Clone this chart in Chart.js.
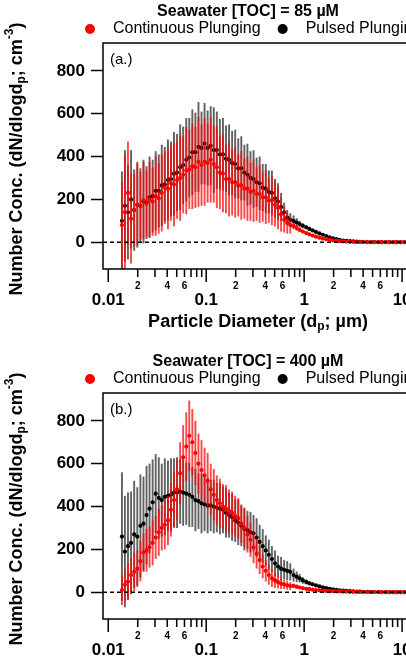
<!DOCTYPE html>
<html>
<head>
<meta charset="utf-8">
<title>Seawater TOC size distributions</title>
<script src="https://cdn.jsdelivr.net/npm/chart.js@4.4.1/dist/chart.umd.min.js"></script>
<style>
  html, body { margin: 0; padding: 0; background: #fff; width: 406px; height: 660px; overflow: hidden; }
  .panel { position: absolute; left: 0; }
</style>
</head>
<body>
<canvas id="toc85" class="panel" style="top:0" width="420" height="350"></canvas>
<canvas id="toc400" class="panel" style="top:350px" width="420" height="350"></canvas>
<script>
// particle diameter (um), SMPS bins then the coarse tail
const diam = [0.0138, 0.0148, 0.0159, 0.0171, 0.0184, 0.0198, 0.0213, 0.0229, 0.0246, 0.0264,
  0.0284, 0.0305, 0.0328, 0.0352, 0.0378, 0.0407, 0.0437, 0.0469, 0.0504, 0.0542,
  0.0582, 0.0626, 0.0672, 0.0722, 0.0776, 0.0834, 0.0896, 0.0963, 0.1035, 0.1112,
  0.1195, 0.1284, 0.1380, 0.1483, 0.1593, 0.1712, 0.1840, 0.1977, 0.2125, 0.2283,
  0.2453, 0.2636, 0.2833, 0.3044, 0.3271, 0.3515, 0.3778, 0.4059, 0.4362, 0.4688,
  0.5037, 0.5413, 0.5817, 0.6251, 0.6717, 0.7218,
  0.78, 0.84, 0.90, 0.97, 1.05, 1.13, 1.22, 1.32, 1.43, 1.55,
  1.68, 1.82, 1.97, 2.13, 2.30, 2.50, 2.70, 2.93, 3.17, 3.43,
  3.70, 4.00, 4.40, 4.80, 5.20, 5.70, 6.20, 6.80, 7.40, 8.10,
  8.80, 9.60, 10.5, 11.5];

// [TOC] = 85 uM
const cont85 = [80, 140, 230, 110, 150, 175, 170, 195, 180, 200,
  190, 215, 205, 230, 255, 250, 275, 270, 290, 300,
  315, 335, 340, 355, 350, 375, 360, 375, 370, 385,
  365, 350, 325, 320, 295, 295, 280, 280, 265, 265,
  250, 250, 235, 240, 225, 225, 210, 210, 195, 195,
  175, 160, 130, 105, 90, 80,
  75, 66, 58, 50, 43, 37, 31, 26, 21, 17,
  14, 11, 9, 7, 5, 4, 3, 2, 2, 1,
  1, 1, 0, 0, 0, 0, 0, 0, 0, 0,
  0, 0, 0, 0];
const cont85Err = [200, 270, 240, 210, 170, 190, 160, 180, 155, 175,
  160, 185, 165, 180, 170, 190, 175, 195, 180, 200,
  180, 205, 185, 200, 190, 210, 190, 205, 185, 200,
  180, 190, 170, 180, 160, 175, 155, 165, 145, 160,
  140, 150, 135, 145, 125, 135, 115, 125, 105, 115,
  100, 100, 80, 60, 50, 40,
  15, 12, 10, 8, 7, 6, 5, 4, 3, 3,
  2, 2, 2, 1, 1, 1, 1, 0, 0, 0,
  0, 0, 0, 0, 0, 0, 0, 0, 0, 0,
  0, 0, 0, 0];
const puls85 = [100, 170, 140, 200, 150, 175, 170, 190, 185, 210,
  215, 240, 240, 265, 270, 290, 295, 320, 325, 350,
  360, 385, 395, 420, 420, 445, 440, 460, 440, 450,
  430, 430, 410, 410, 390, 385, 370, 365, 345, 345,
  325, 315, 300, 295, 280, 275, 255, 250, 235, 230,
  205, 190, 165, 140, 115, 105,
  100, 92, 85, 77, 70, 62, 55, 48, 41, 35,
  29, 23, 18, 14, 11, 8, 6, 5, 4, 3,
  2, 2, 1, 1, 1, 0, 0, 0, 0, 0,
  0, 0, 0, 0];
const puls85Err = [230, 260, 220, 230, 190, 200, 175, 195, 170, 190,
  170, 185, 170, 190, 175, 190, 175, 195, 180, 200,
  180, 195, 185, 200, 185, 210, 170, 190, 175, 185,
  200, 180, 165, 170, 155, 165, 150, 160, 140, 150,
  130, 145, 125, 135, 115, 125, 110, 115, 100, 105,
  90, 85, 65, 45, 35, 30,
  25, 20, 15, 12, 10, 8, 6, 5, 4, 3,
  3, 2, 2, 1, 1, 1, 0, 0, 0, 0,
  0, 0, 0, 0, 0, 0, 0, 0, 0, 0,
  0, 0, 0, 0];

// [TOC] = 400 uM
const cont400 = [10, 35, 50, 80, 95, 110, 145, 185, 195, 210,
  230, 255, 280, 300, 315, 335, 385, 430, 480, 555,
  630, 680, 730, 700, 650, 600, 570, 545, 520, 480,
  455, 430, 415, 400, 390, 380, 370, 355, 345, 320,
  300, 270, 245, 210, 180, 150, 120, 100, 80, 65,
  55, 47, 40, 36, 32, 29,
  30, 26, 22, 19, 16, 14, 12, 10, 9, 7,
  6, 5, 5, 4, 4, 3, 3, 2, 2, 2,
  1, 1, 1, 1, 1, 0, 0, 0, 0, 0,
  0, 0, 0, 0];
const cont400Err = [70, 75, 85, 80, 90, 85, 95, 90, 100, 95,
  105, 100, 110, 105, 115, 115, 125, 130, 140, 145,
  150, 160, 165, 155, 150, 140, 140, 130, 130, 120,
  120, 115, 115, 105, 110, 100, 100, 95, 95, 90,
  90, 85, 80, 75, 70, 65, 55, 50, 45, 40,
  35, 30, 25, 22, 20, 18,
  10, 8, 7, 6, 5, 4, 3, 3, 2, 2,
  2, 1, 1, 1, 1, 0, 0, 0, 0, 0,
  0, 0, 0, 0, 0, 0, 0, 0, 0, 0,
  0, 0, 0, 0];
const puls400 = [260, 190, 215, 230, 270, 260, 310, 320, 360, 390,
  420, 460, 440, 430, 445, 450, 455, 465, 465, 470,
  465, 460, 455, 445, 430, 425, 415, 410, 405, 405,
  400, 395, 390, 385, 370, 360, 350, 335, 325, 310,
  295, 290, 280, 275, 255, 235, 215, 195, 175, 155,
  135, 120, 110, 105, 100, 95,
  80, 72, 65, 55, 48, 42, 37, 32, 27, 23,
  19, 16, 13, 11, 9, 7, 6, 5, 4, 3,
  3, 2, 2, 1, 1, 1, 1, 0, 0, 0,
  0, 0, 0, 0];
const puls400Err = [300, 260, 250, 240, 250, 230, 240, 220, 230, 210,
  200, 185, 190, 170, 180, 165, 170, 160, 165, 150,
  155, 145, 150, 140, 145, 130, 140, 125, 130, 120,
  125, 115, 120, 110, 115, 105, 110, 100, 105, 95,
  100, 90, 95, 85, 90, 80, 80, 70, 70, 60,
  60, 50, 55, 45, 45, 40,
  30, 25, 20, 15, 12, 10, 8, 6, 5, 4,
  3, 3, 2, 2, 2, 1, 1, 1, 0, 0,
  0, 0, 0, 0, 0, 0, 0, 0, 0, 0,
  0, 0, 0, 0];

// axes
const xMin = 0.00884, xMax = 13.87;
const yMin = -125, yMax = 930;
const yTicks = [0, 200, 400, 600, 800];
const xMajorTicks = [0.01, 0.1, 1, 10];
const xMajorLabels = ['0.01', '0.1', '1', '10'];
const xMinorTicks = [0.02, 0.03, 0.04, 0.05, 0.06, 0.07, 0.08, 0.09,
  0.2, 0.3, 0.4, 0.5, 0.6, 0.7, 0.8, 0.9,
  2, 3, 4, 5, 6, 7, 8, 9];
const xMinorLabels = ['2', '', '4', '', '6', '', '', '',
  '2', '', '4', '', '6', '', '', '',
  '2', '', '4', '', '6', '', '', ''];
const xTitle = [['Particle Diameter (d'], ['p', 'sub'], ['; µm)']];
const yTitle = [['Number Conc. (dN/dlogd'], ['p', 'sub'], ['; cm'], ['-3', 'sup'], [')']];

const FONT = "'Liberation Sans', Arial, Helvetica, sans-serif";
Chart.defaults.font.family = FONT;
Chart.defaults.color = '#000';

// text with sub/superscripts, centred on (cx, cy)
function richText(ctx, parts, cx, cy, size) {
  const big = 'bold ' + size + 'px ' + FONT;
  const small = 'bold ' + Math.round(size * 0.68) + 'px ' + FONT;
  let w = 0;
  parts.forEach(([t, k]) => { ctx.font = k ? small : big; w += ctx.measureText(t).width; });
  let x = cx - w / 2;
  ctx.textAlign = 'left';
  ctx.textBaseline = 'middle';
  parts.forEach(([t, k]) => {
    ctx.font = k ? small : big;
    ctx.fillText(t, x, cy + (k === 'sub' ? 5 : k === 'sup' ? -7 : 0));
    x += ctx.measureText(t).width;
  });
}

// vertical error bars, drawn just under each dataset's markers
const errorBars = {
  id: 'errorBars',
  beforeDatasetDraw(chart, args) {
    const ds = chart.data.datasets[args.index];
    if (!ds.err) return;
    const {ctx, chartArea: a, scales: {x, y}} = chart;
    ctx.save();
    ctx.beginPath();
    ctx.rect(a.left, a.top, a.right - a.left, a.bottom - a.top);
    ctx.clip();
    ctx.strokeStyle = ds.errColor;
    ctx.lineWidth = 1.9;
    ds.data.forEach((p, i) => {
      const e = ds.err[i];
      if (!e) return;
      const px = x.getPixelForValue(p.x);
      ctx.beginPath();
      ctx.moveTo(px, y.getPixelForValue(p.y - e));
      ctx.lineTo(px, y.getPixelForValue(p.y + e));
      ctx.stroke();
    });
    ctx.restore();
  }
};

// frame, hanging log ticks, titles, legend
const figureDecor = {
  id: 'figureDecor',
  afterDraw(chart, args, o) {
    const {ctx, chartArea: a, scales: {x}} = chart;
    ctx.save();
    ctx.fillStyle = '#000';
    ctx.strokeStyle = '#000';
    ctx.lineWidth = 1.5;
    ctx.strokeRect(a.left, a.top, a.right - a.left, a.bottom - a.top);

    ctx.beginPath();
    xMajorTicks.forEach(v => {
      const px = x.getPixelForValue(v);
      ctx.moveTo(px, a.bottom);
      ctx.lineTo(px, a.bottom + 13);
    });
    xMinorTicks.forEach(v => {
      const px = x.getPixelForValue(v);
      ctx.moveTo(px, a.bottom);
      ctx.lineTo(px, a.bottom + 8);
    });
    ctx.stroke();

    ctx.textAlign = 'center';
    ctx.textBaseline = 'middle';
    ctx.font = 'bold 10px ' + FONT;
    xMinorTicks.forEach((v, i) => ctx.fillText(xMinorLabels[i], x.getPixelForValue(v), a.bottom + 17));
    ctx.font = 'bold 17px ' + FONT;
    xMajorTicks.forEach((v, i) => ctx.fillText(xMajorLabels[i], x.getPixelForValue(v), a.bottom + 31));

    richText(ctx, xTitle, 258, a.bottom + 53, 18);
    ctx.save();
    ctx.translate(17, (a.top + a.bottom) / 2 + 3);
    ctx.rotate(-Math.PI / 2);
    richText(ctx, yTitle, 0, 0, 18);
    ctx.restore();

    ctx.font = '15px ' + FONT;
    ctx.textAlign = 'left';
    ctx.textBaseline = 'middle';
    ctx.fillText(o.tag, a.left + 7, a.top + 17);

    ctx.font = 'bold 16px ' + FONT;
    ctx.textAlign = 'center';
    ctx.fillText(o.heading, 248, 12);

    // legend
    ctx.font = '16px ' + FONT;
    ctx.textAlign = 'left';
    let lx = 85;
    chart.data.datasets.filter(d => d.label).forEach(d => {
      ctx.fillStyle = d.pointBackgroundColor;
      ctx.beginPath();
      ctx.arc(lx + 5, 29, 5, 0, Math.PI * 2);
      ctx.fill();
      ctx.fillStyle = '#000';
      ctx.fillText(d.label, lx + 28, 29);
      lx += 28 + ctx.measureText(d.label).width + 17;
    });
    ctx.restore();
  }
};

function sizePanel(id, heading, tag, cont, contErr, puls, pulsErr) {
  return new Chart(document.getElementById(id), {
    type: 'scatter',
    data: {
      datasets: [
        {
          label: '',
          data: [{x: xMin, y: 0}, {x: xMax, y: 0}],
          showLine: true,
          borderColor: '#000',
          borderWidth: 1.5,
          borderDash: [4, 3],
          pointRadius: 0,
          order: 0
        },
        {
          label: 'Continuous Plunging',
          data: diam.map((d, i) => ({x: d, y: cont[i]})),
          err: contErr,
          errColor: 'rgba(255,0,0,0.72)',
          pointRadius: 2.1,
          pointBorderWidth: 0,
          pointBackgroundColor: '#ff0000',
          borderColor: '#ff0000',
          order: 1
        },
        {
          label: 'Pulsed Plunging',
          data: diam.map((d, i) => ({x: d, y: puls[i]})),
          err: pulsErr,
          errColor: 'rgba(0,0,0,0.62)',
          pointRadius: 2.1,
          pointBorderWidth: 0,
          pointBackgroundColor: '#000000',
          borderColor: '#000000',
          order: 2
        }
      ]
    },
    options: {
      responsive: false,
      animation: false,
      events: [],
      layout: {padding: {top: 43, bottom: 81, left: 0, right: 0}},
      scales: {
        x: {type: 'logarithmic', display: false, min: xMin, max: xMax},
        y: {
          min: yMin,
          max: yMax,
          afterBuildTicks: s => { s.ticks = yTicks.map(v => ({value: v})); },
          afterFit: s => { s.width = 103; },
          border: {display: false},
          grid: {drawOnChartArea: false, drawTicks: true, tickLength: 12, tickColor: '#000', tickWidth: 1.5},
          ticks: {color: '#000', padding: 6, font: {size: 17, weight: 'bold'}}
        }
      },
      plugins: {
        legend: {display: false},
        title: {display: false},
        tooltip: {enabled: false},
        figureDecor: {heading: heading, tag: tag}
      }
    },
    plugins: [errorBars, figureDecor]
  });
}

sizePanel('toc85', 'Seawater [TOC] = 85 µM', '(a.)', cont85, cont85Err, puls85, puls85Err);
sizePanel('toc400', 'Seawater [TOC] = 400 µM', '(b.)', cont400, cont400Err, puls400, puls400Err);
</script>
</body>
</html>
